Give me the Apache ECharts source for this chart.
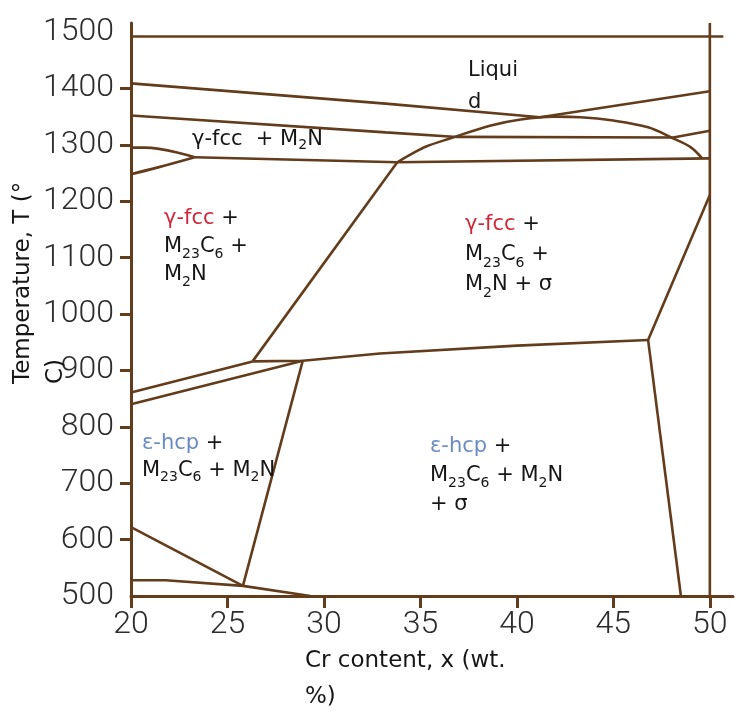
<!DOCTYPE html>
<html lang="en">
<head>
<meta charset="UTF-8">
<title>Cr content phase diagram</title>
<script src="https://cdn.jsdelivr.net/npm/echarts@6/dist/echarts.min.js"></script>
<style>
    html, body { margin: 0; padding: 0; background: #fff; }
    #main { width: 742px; height: 711px; }
</style>
</head>
<body>
<div id="main"></div>
<script>
// tick values
var xTicks = [20, 25, 30, 35, 40, 45, 50];
var yLabels = [500, 600, 700, 800, 900, 1000, 1100, 1200, 1300, 1400, 1500];
var yTicks = [600, 700, 800, 900, 1000, 1100, 1200, 1300, 1400];

// phase boundaries, points are [Cr wt.%, T in C]
var frameTop = [[20, 1492], [50.7, 1492]];
var frameRight = [[50, 500], [50, 1516]];
var liquidus = [[20, 1409], [33.2, 1373], [41.2, 1349], [50, 1395]];
var upperBand = [[20, 1352], [33.2, 1322], [36.9, 1314], [48.1, 1313], [50, 1325]];
var fccTop = [[20, 1295], [20.7, 1295], [23.3, 1278]];
var fccBottom = [[20, 1248], [21.4, 1260], [23.3, 1278]];
var solvus = [[23.3, 1278], [33.8, 1269], [50, 1276]];
var sigmaLeft = [[26.3, 916], [33.8, 1269]];
var dome = [[33.8, 1269], [34.5, 1283], [35.3, 1297], [36.6, 1312], [38.6, 1334], [40.2, 1345],
            [41.9, 1350], [43.3, 1349], [45.0, 1343], [46.8, 1331], [48.0, 1313], [49.0, 1296], [49.6, 1276]];
var hcpTop = [[26.3, 916], [28.9, 917], [32.9, 930], [40, 944], [46.8, 954]];
var sigmaUpper = [[46.8, 954], [50, 1211]];
var sigmaRight = [[46.8, 954], [48.5, 500]];
var leftUpper = [[20, 861], [26.3, 916]];
var leftLower = [[20, 840], [28.9, 917]];
var hcpRight = [[28.9, 917], [25.8, 518]];
var lowDiag = [[20, 622], [25.8, 518]];
var lowFlat = [[20, 528], [21.8, 528], [25.8, 518], [29.3, 500]];

var brown = '#633c1c';
var ink = '#161616';
var ff = 'DejaVu Sans';

function boundary(data, smooth) {
    return {
        type: 'line',
        data: data,
        smooth: smooth || false,
        symbol: 'none',
        showSymbol: false,
        silent: true,
        z: 3,
        lineStyle: { color: brown, width: 2.6 }
    };
}

// zrender rich tokens take fill, not color
var rich = {
    r: { fill: '#d0283a', fontSize: 21, fontFamily: ff },
    b: { fill: '#6a8cc6', fontSize: 21, fontFamily: ff },
    s: { fill: ink, fontSize: 14, lineHeight: 14, verticalAlign: 'bottom', fontFamily: ff }
};

function note(text, x, y, lh, size, rot) {
    return {
        type: 'text',
        x: x,
        y: y,
        rotation: rot || 0,
        silent: true,
        z: 10,
        style: {
            text: text,
            fill: ink,
            fontSize: size || 21,
            fontFamily: ff,
            lineHeight: lh,
            align: 'left',
            verticalAlign: 'top',
            textAlign: 'left',
            textVerticalAlign: 'top',
            rich: rich
        }
    };
}

var tickFont = { color: '#2c2c2c', fontSize: 32, fontFamily: 'Roboto', fontWeight: 300 };
function plain(v) { return String(v); }

var chart = echarts.init(document.getElementById('main'));
var option = {
    animation: false,
    backgroundColor: '#fff',
    grid: { left: 131, right: 9, top: 23, bottom: 115 },
    xAxis: {
        type: 'value',
        min: 20,
        max: 51.2,
        axisLine: { onZero: false, lineStyle: { color: brown, width: 3 } },
        axisTick: { customValues: xTicks, length: 12, lineStyle: { color: brown, width: 3 } },
        axisLabel: Object.assign({ customValues: xTicks, margin: 13, formatter: plain }, tickFont),
        splitLine: { show: false }
    },
    yAxis: {
        type: 'value',
        min: 500,
        max: 1516,
        axisLine: { show: true, onZero: false, lineStyle: { color: brown, width: 3 } },
        axisTick: { show: true, customValues: yTicks, length: 11, lineStyle: { color: brown, width: 3 } },
        axisLabel: Object.assign({ customValues: yLabels, margin: 17, formatter: plain, padding: [0, 0, 7, 0] }, tickFont),
        splitLine: { show: false }
    },
    series: [
        boundary(frameTop),
        boundary(frameRight),
        boundary(liquidus),
        boundary(upperBand),
        boundary(fccTop, 0.4),
        boundary(fccBottom, 0.4),
        boundary(solvus),
        boundary(sigmaLeft),
        boundary(dome, 0.35),
        boundary(hcpTop),
        boundary(sigmaUpper),
        boundary(sigmaRight),
        boundary(leftUpper),
        boundary(leftLower),
        boundary(hcpRight),
        boundary(lowDiag),
        boundary(lowFlat)
    ],
    graphic: [
        note('Liqui\nd', 468, 55, 32),
        note('γ-fcc  + M{s|2}N', 192, 128, 24),
        note('{r|γ-fcc} +\nM{s|23}C{s|6} +\nM{s|2}N', 164, 205, 28),
        note('{r|γ-fcc} +\nM{s|23}C{s|6} +\nM{s|2}N + σ', 465, 210, 30),
        note('{b|ε-hcp} +\nM{s|23}C{s|6} + M{s|2}N', 142, 430, 27),
        note('{b|ε-hcp} +\nM{s|23}C{s|6} + M{s|2}N\n+ σ', 430, 432, 29),
        note('Cr content, x (wt.\n%)', 305, 643, 36, 23),
        note('Temperature, T (°\nC)', 7, 384, 33, 23, Math.PI / 2)
    ]
};
chart.setOption(option);
</script>
</body>
</html>
